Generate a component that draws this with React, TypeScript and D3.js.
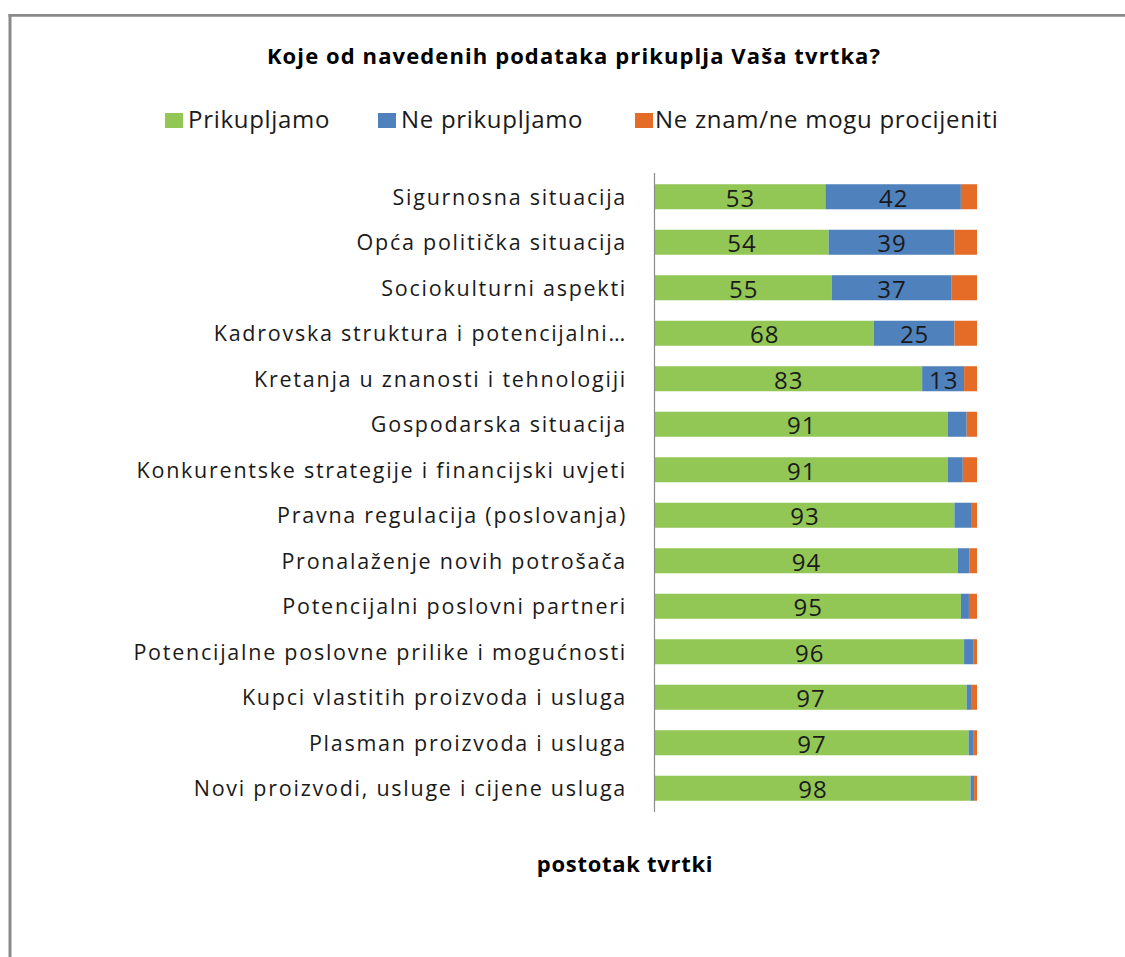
import React from "react";
import * as d3 from "d3";

const categories = [
  "Sigurnosna situacija",
  "Opća politička situacija",
  "Sociokulturni aspekti",
  "Kadrovska struktura i potencijalni…",
  "Kretanja u znanosti i tehnologiji",
  "Gospodarska situacija",
  "Konkurentske strategije i financijski uvjeti",
  "Pravna regulacija (poslovanja)",
  "Pronalaženje novih potrošača",
  "Potencijalni poslovni partneri",
  "Potencijalne poslovne prilike i mogućnosti",
  "Kupci vlastitih proizvoda i usluga",
  "Plasman proizvoda i usluga",
  "Novi proizvodi, usluge i cijene usluga",
];
const prikupljamo = [53, 54, 55, 68, 83, 91, 91, 93, 94, 95, 96, 96.8, 97.4, 98];
const nePrikupljamo = [42, 39, 37, 25, 13, 5.8, 4.6, 5.4, 3.6, 2.5, 2.8, 1.6, 1.6, 1.1];
const neZnam = [5, 7, 8, 7, 4, 3.2, 4.4, 1.6, 2.4, 2.5, 1.2, 1.6, 1.0, 0.9];

const seriesNames = ["Prikupljamo", "Ne prikupljamo", "Ne znam/ne mogu procijeniti"];
const seriesColors = ["#92c755", "#4f81bd", "#e46c26"];
const labelThreshold = 10;

const FONT = "'Open Sans', 'Noto Sans', sans-serif";

export default function App() {
  const W = 1125;
  const H = 957;
  const x = d3.scaleLinear().domain([0, 100]).range([654.5, 977]);
  const y = d3
    .scaleBand()
    .domain(categories)
    .range([174, 811])
    .paddingInner(0.45)
    .paddingOuter(0.225);

  const rows = categories.map((c, i) => ({
    c,
    vals: [prikupljamo[i], nePrikupljamo[i], neZnam[i]],
  }));

  const legendPos = [
    { sx: 165, tx: 188 },
    { sx: 378, tx: 401 },
    { sx: 635, tx: 655 },
  ];

  return (
    <svg width={W} height={H} style={{ display: "block", position: "absolute", left: 0, top: 0 }}>
      <rect x={0} y={0} width={W} height={H} fill="#fff" />
      <line x1={8.5} y1={15.3} x2={W} y2={15.3} stroke="#8a8a8a" strokeWidth={2.7} />
      <line x1={10} y1={14} x2={10} y2={H} stroke="#8a8a8a" strokeWidth={3} />
      <text
        x={574}
        y={64}
        textAnchor="middle"
        fontFamily={FONT}
        fontWeight="bold"
        fontSize={22}
        letterSpacing={1.1}
        fill="#000"
      >
        Koje od navedenih podataka prikuplja Vaša tvrtka?
      </text>
      {legendPos.map((p, i) => (
        <g key={i}>
          <rect x={p.sx} y={113} width={18} height={15} fill={seriesColors[i]} />
          <text x={p.tx} y={128} fontFamily={FONT} fontSize={24} letterSpacing={0.7} fill="#1a1a1a">
            {seriesNames[i]}
          </text>
        </g>
      ))}
      {rows.map((r) => {
        let acc = 0;
        return (
          <g key={r.c}>
            {r.vals.map((v, j) => {
              const x0 = x(acc);
              acc += v;
              const x1 = x(acc);
              return (
                <g key={j}>
                  <rect
                    x={x0}
                    y={y(r.c)!}
                    width={Math.max(0, x1 - x0)}
                    height={y.bandwidth()}
                    fill={seriesColors[j]}
                  />
                  {v >= labelThreshold && (
                    <text
                      x={(x0 + x1) / 2 + 0.5}
                      y={y(r.c)! + y.bandwidth() / 2 + 10}
                      textAnchor="middle"
                      fontFamily={FONT}
                      fontSize={24}
                      letterSpacing={1}
                      fill="#1a1a1a"
                    >
                      {Math.round(v)}
                    </text>
                  )}
                </g>
              );
            })}
            <text
              x={627}
              y={y(r.c)! + y.bandwidth() / 2 + 8}
              textAnchor="end"
              fontFamily={FONT}
              fontSize={21.5}
              letterSpacing={1.75}
              fill="#1a1a1a"
            >
              {r.c}
            </text>
          </g>
        );
      })}
      <line x1={654.5} y1={173} x2={654.5} y2={812} stroke="#8c8c8c" strokeWidth={1.2} />
      <text
        x={625}
        y={872}
        textAnchor="middle"
        fontFamily={FONT}
        fontWeight="bold"
        fontSize={22}
        letterSpacing={0.7}
        fill="#000"
      >
        postotak tvrtki
      </text>
    </svg>
  );
}
